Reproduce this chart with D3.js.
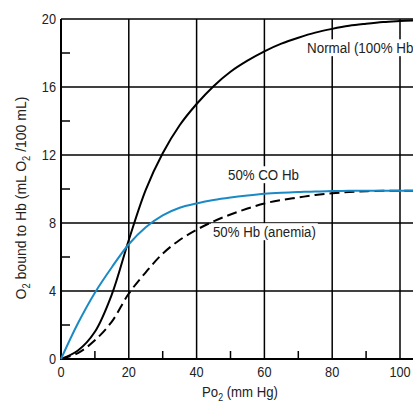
<!DOCTYPE html>
<html>
  <head>
    <style>
      body { margin: 0; background: #fff; }
      svg { display: block; }
      text { font-family: "Liberation Sans", Arial, sans-serif; fill: #222; }
      .grid line { stroke: #000; stroke-width: 1.5; }
      .curve { fill: none; stroke-width: 2; }
    </style>
    <script src="https://cdn.jsdelivr.net/npm/d3@7"></script>
  </head>
  <body>
    <div id="chart"></div>
    <script>
      // readings (Po2 in mm Hg, O2 in mL/100 mL)
      var po2 = [0, 5, 10, 15, 20, 25, 30, 35, 40, 45, 50, 55, 60, 65, 70, 75, 80, 85, 90, 95, 100, 104];
      var normal = [0, 0.5, 1.6, 3.8, 7.0, 9.95, 12.1, 13.75, 15.0, 16.05, 16.9, 17.55, 18.1, 18.55, 18.9, 19.2, 19.42, 19.6, 19.72, 19.82, 19.88, 19.92];
      var coHb = [0, 2.1, 3.9, 5.4, 6.75, 7.75, 8.45, 8.9, 9.15, 9.35, 9.5, 9.62, 9.72, 9.78, 9.82, 9.86, 9.88, 9.9, 9.9, 9.9, 9.9, 9.9];
      var anemia = [0, 0.35, 1.1, 2.2, 3.85, 5.1, 6.2, 7.0, 7.6, 8.1, 8.5, 8.85, 9.15, 9.35, 9.5, 9.65, 9.75, 9.82, 9.87, 9.9, 9.9, 9.9];

      var xMajor = [0, 20, 40, 60, 80, 100];
      var xMinor = [10, 30, 50, 70, 90];
      var yMajor = [0, 4, 8, 12, 16, 20];
      var yMinor = [2, 6, 10, 14, 18];

      var W = 413, H = 401;
      var svg = d3.select("#chart").append("svg").attr("width", W).attr("height", H);

      var x = d3.scaleLinear().domain([0, 100]).range([61, 400]);
      var y = d3.scaleLinear().domain([0, 20]).range([359, 19]);

      // the reference face is condensed, so texts get squeezed sideways
      function txt(tx, ty, size, anchor, rot) {
        var t = svg.append("text").attr("font-size", size).attr("text-anchor", anchor || "start");
        t.attr("data-tr", "translate(" + tx + "," + ty + ")" + (rot ? " rotate(" + rot + ")" : ""));
        t.attr("transform", t.attr("data-tr"));
        return t;
      }
      function squeeze(t, sx) {
        t.attr("transform", t.attr("data-tr") + " scale(" + sx + ",1)");
        return t;
      }
      function fit(t, w) {
        return squeeze(t, w / t.node().getBBox().width);
      }

      // grid
      var grid = svg.append("g").attr("class", "grid");
      grid.selectAll(".h").data(yMajor.slice(1)).enter().append("line")
        .attr("x1", x(0)).attr("x2", W)
        .attr("y1", function(d) { return y(d); }).attr("y2", function(d) { return y(d); });
      grid.selectAll(".v").data(xMajor.slice(1)).enter().append("line")
        .attr("y1", y(0)).attr("y2", y(20))
        .attr("x1", function(d) { return x(d); }).attr("x2", function(d) { return x(d); });
      grid.selectAll(".ym").data(yMinor).enter().append("line")
        .attr("x1", x(0)).attr("x2", x(0) + 9)
        .attr("y1", function(d) { return y(d); }).attr("y2", function(d) { return y(d); });
      grid.selectAll(".xm").data(xMinor).enter().append("line")
        .attr("y1", y(0)).attr("y2", y(0) - 8)
        .attr("x1", function(d) { return x(d); }).attr("x2", function(d) { return x(d); });

      // axes lines
      svg.append("line").attr("x1", x(0)).attr("x2", x(0)).attr("y1", y(20)).attr("y2", y(0) + 1)
        .attr("stroke", "#000").attr("stroke-width", 2);
      svg.append("line").attr("x1", x(0) - 1).attr("x2", W).attr("y1", y(0)).attr("y2", y(0))
        .attr("stroke", "#000").attr("stroke-width", 2);

      // curve labels with white backing
      function label(s, tx, ty, w) {
        var bg = svg.append("rect").attr("fill", "#fff");
        var t = fit(txt(tx, ty, 15).text(s), w);
        var b = t.node().getBoundingClientRect();
        bg.attr("x", b.left - 2).attr("y", b.top).attr("width", b.width + 4).attr("height", b.height);
      }
      label("Normal (100% Hb)", 307, 53, 111);
      label("50% CO Hb", 228, 180, 71);
      label("50% Hb (anemia)", 213, 237, 103);

      var line = d3.line().curve(d3.curveCatmullRom);
      function pts(vals) { return po2.map(function(p, i) { return [x(p), y(vals[i])]; }); }

      svg.append("path").attr("class", "curve").attr("d", line(pts(anemia)))
        .attr("stroke", "#000").attr("stroke-dasharray", "10,5");
      svg.append("path").attr("class", "curve").attr("d", line(pts(normal))).attr("stroke", "#000");
      svg.append("path").attr("class", "curve").attr("d", line(pts(coHb))).attr("stroke", "#1a8ac6");

      // tick labels
      yMajor.forEach(function(d) {
        squeeze(txt(56, y(d) + 5, 15, "end").text(d), 0.85);
      });
      xMajor.forEach(function(d) {
        squeeze(txt(x(d), 377, 15, "middle").text(d), 0.85);
      });

      // axis titles
      var xt = txt(240, 397, 15, "middle");
      xt.append("tspan").text("Po");
      xt.append("tspan").attr("dy", 4).attr("font-size", 10).text("2");
      xt.append("tspan").attr("dy", -4).text(" (mm Hg)");
      fit(xt, 76);

      var yt = txt(26, 198, 15, "middle", -90);
      yt.append("tspan").text("O");
      yt.append("tspan").attr("dy", 4).attr("font-size", 10).text("2");
      yt.append("tspan").attr("dy", -4).text(" bound to Hb (mL O");
      yt.append("tspan").attr("dy", 4).attr("font-size", 10).text("2");
      yt.append("tspan").attr("dy", -4).text(" /100 mL)");
      fit(yt, 203);
    </script>
  </body>
</html>
